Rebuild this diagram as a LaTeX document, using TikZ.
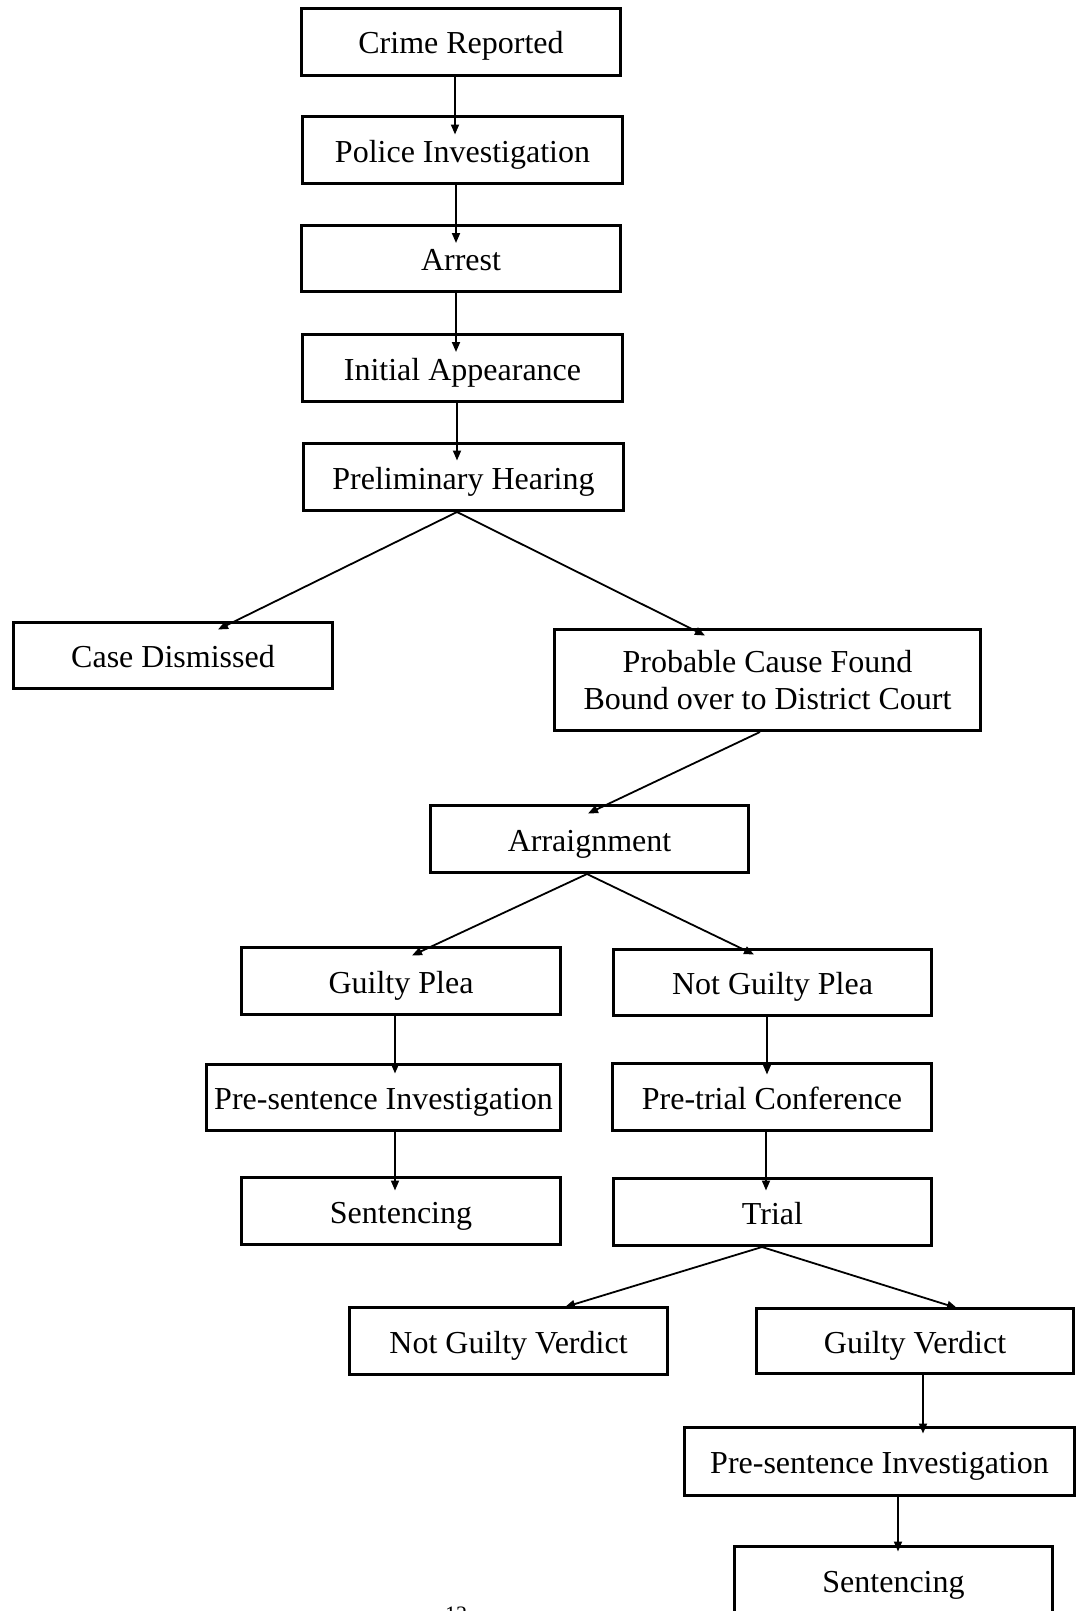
\documentclass[tikz,border=0pt]{standalone}
\usepackage{fontspec}
\setmainfont{Liberation Serif}
\usetikzlibrary{arrows.meta,calc}
\begin{document}
\begin{tikzpicture}[x=1pt,y=-1pt,
  box/.style={draw=black,line width=3pt,rectangle,inner sep=0pt,align=center,
    font=\fontsize{32}{37}\selectfont},
  one/.style={box,text height=24pt,text depth=0pt},
  arr/.style={draw=black,line width=1.8pt,-{Triangle[length=10pt,width=8pt]}}]
\useasboundingbox (0,0) rectangle (1077,1611);
\begin{scope}
\clip (0,0) rectangle (1077,1611);
\node[one,minimum width=319pt,minimum height=67pt] (cr) at (461,42) {Crime Reported};
\node[one,minimum width=320pt,minimum height=67pt] (pi) at (462.5,150) {Police Investigation};
\node[one,minimum width=319pt,minimum height=66pt] (ar) at (461,258.5) {Arrest};
\node[one,minimum width=320pt,minimum height=67pt] (ia) at (462.5,368) {Initial Appearance};
\node[one,minimum width=320pt,minimum height=67pt] (ph) at (463.5,477) {Preliminary Hearing};
\node[one,minimum width=319pt,minimum height=66pt] (cd) at (173,655.5) {Case Dismissed};
\node[box,minimum width=426pt,minimum height=101pt] (pc) at (767.5,680) {Probable Cause Found\\Bound over to District Court};
\node[one,minimum width=318pt,minimum height=67pt] (arr) at (589.5,839) {Arraignment};
\node[one,minimum width=319pt,minimum height=67pt] (gp) at (401,981) {Guilty Plea};
\node[one,minimum width=318pt,minimum height=66pt] (ngp) at (772.5,982.5) {Not Guilty Plea};
\node[one,minimum width=354pt,minimum height=66pt] (psl) at (383.5,1097.5) {Pre-sentence Investigation};
\node[one,minimum width=319pt,minimum height=67pt] (ptc) at (772,1097) {Pre-trial Conference};
\node[one,minimum width=319pt,minimum height=67pt] (snl) at (401,1211) {Sentencing};
\node[one,minimum width=318pt,minimum height=67pt] (tr) at (772.5,1212) {Trial};
\node[one,minimum width=318pt,minimum height=67pt] (ngv) at (508.5,1341) {Not Guilty Verdict};
\node[one,minimum width=317pt,minimum height=65pt] (gv) at (915,1341) {Guilty Verdict};
\node[one,minimum width=390pt,minimum height=68pt] (psr) at (879.5,1461.5) {Pre-sentence Investigation};
\node[one,minimum width=318pt,minimum height=67pt] (snr) at (893.5,1580) {Sentencing};
\node[anchor=north,inner sep=0pt,font=\fontsize{22}{24}\selectfont] (pg) at (456,1607) {12};

\draw[arr] ([xshift=-6pt]cr.south) -- ([xshift=-7.5pt,yshift=-19.5pt]pi.north);
\draw[arr] ([xshift=-6.5pt]pi.south) -- ([xshift=-5pt,yshift=-19pt]ar.north);
\draw[arr] ([xshift=-5pt]ar.south) -- ([xshift=-6.5pt,yshift=-19pt]ia.north);
\draw[arr] ([xshift=-5.5pt]ia.south) -- ([xshift=-6.5pt,yshift=-18.5pt]ph.north);
\draw[arr] ([xshift=-6.5pt]ph.south) -- ([xshift=45pt,yshift=-8.5pt]cd.north);
\draw[arr] ([xshift=-6.5pt]ph.south) -- ([xshift=-62.5pt,yshift=-7.5pt]pc.north);
\draw[arr] ([xshift=-7.5pt]pc.south) -- ([xshift=-1.5pt,yshift=-9.5pt]arr.north);
\draw[arr] ([xshift=-2.5pt]arr.south) -- ([xshift=11pt,yshift=-9.5pt]gp.north);
\draw[arr] ([xshift=-2.5pt]arr.south) -- ([xshift=-18.5pt,yshift=-6.5pt]ngp.north);
\draw[arr] ([xshift=-6pt]gp.south) -- ([xshift=11.5pt,yshift=-10.5pt]psl.north);
\draw[arr] ([xshift=11.5pt]psl.south) -- ([xshift=-6pt,yshift=-14.5pt]snl.north);
\draw[arr] ([xshift=-5.5pt]ngp.south) -- ([xshift=-5pt,yshift=-12.5pt]ptc.north);
\draw[arr] ([xshift=-6pt]ptc.south) -- ([xshift=-6.5pt,yshift=-13.5pt]tr.north);
\draw[arr] ([xshift=-10.5pt]tr.south) -- ([xshift=56.5pt,yshift=-1pt]ngv.north);
\draw[arr] ([xshift=-10.5pt]tr.south) -- ([xshift=42pt,yshift=-1pt]gv.north);
\draw[arr] ([xshift=8pt]gv.south) -- ([xshift=43.5pt,yshift=-7.5pt]psr.north);
\draw[arr] ([xshift=18.5pt]psr.south) -- ([xshift=4.5pt,yshift=-6.5pt]snr.north);
\end{scope}
\end{tikzpicture}
\end{document}
